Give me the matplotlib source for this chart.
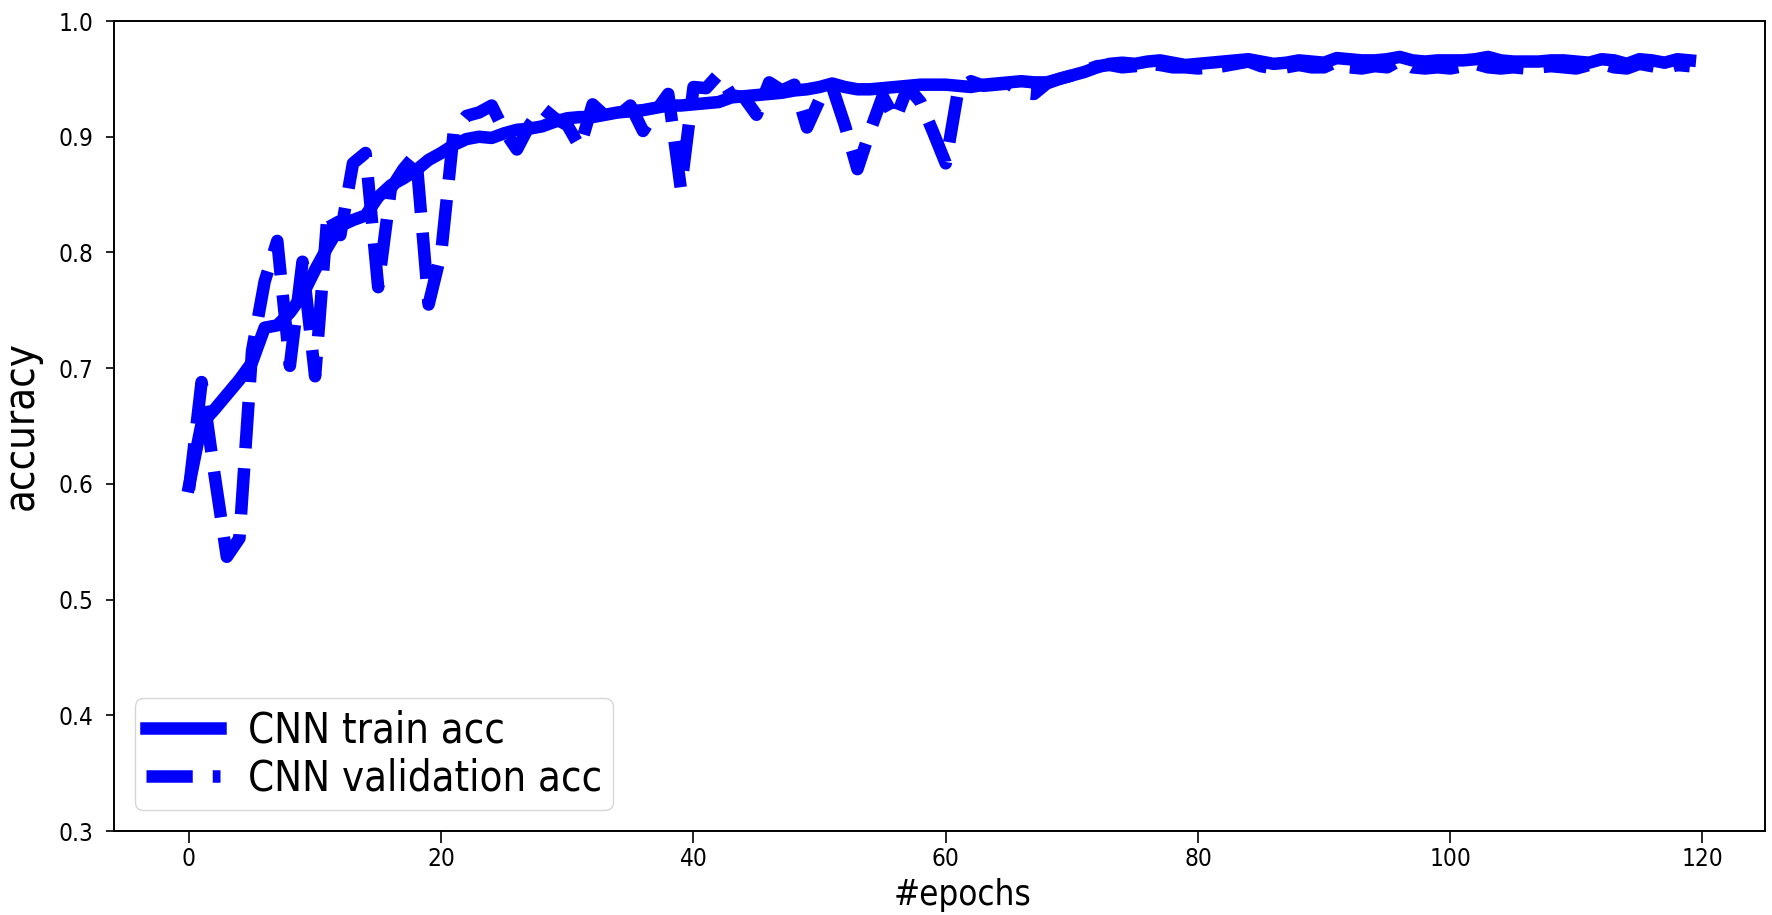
import matplotlib
matplotlib.use("Agg")
import numpy as np
import matplotlib.pyplot as plt

# accuracy per epoch
train_acc = [
    0.598, 0.652, 0.664, 0.677, 0.690, 0.705, 0.735, 0.737, 0.748, 0.763,
    0.785, 0.805, 0.823, 0.828, 0.832, 0.848, 0.858, 0.864, 0.871, 0.880,
    0.886, 0.893, 0.898, 0.900, 0.899, 0.903, 0.906, 0.907, 0.909, 0.913,
    0.916, 0.917, 0.917, 0.919, 0.921, 0.922, 0.923, 0.925, 0.927, 0.927,
    0.928, 0.929, 0.930, 0.934, 0.935, 0.936, 0.937, 0.938, 0.940, 0.941,
    0.943, 0.946, 0.943, 0.941, 0.941, 0.942, 0.943, 0.944, 0.945, 0.945,
    0.945, 0.944, 0.943, 0.945, 0.946, 0.947, 0.948, 0.947, 0.947, 0.950,
    0.953, 0.956, 0.960, 0.963, 0.964, 0.963, 0.965, 0.966, 0.964, 0.962,
    0.963, 0.964, 0.965, 0.966, 0.967, 0.965, 0.963, 0.964, 0.966, 0.965,
    0.964, 0.968, 0.967, 0.966, 0.966, 0.967, 0.969, 0.966, 0.965, 0.966,
    0.966, 0.966, 0.967, 0.969, 0.966, 0.965, 0.965, 0.965, 0.966, 0.966,
    0.965, 0.964, 0.967, 0.966, 0.963, 0.967, 0.966, 0.964, 0.967, 0.966,
]
val_acc = [
    0.595, 0.688, 0.610, 0.537, 0.553, 0.715, 0.775, 0.810, 0.702, 0.792,
    0.693, 0.835, 0.815, 0.877, 0.886, 0.770, 0.855, 0.872, 0.885, 0.755,
    0.800, 0.905, 0.918, 0.921, 0.927, 0.905, 0.889, 0.910, 0.925, 0.916,
    0.910, 0.891, 0.928, 0.918, 0.918, 0.927, 0.905, 0.922, 0.937, 0.855,
    0.943, 0.942, 0.954, 0.936, 0.934, 0.919, 0.947, 0.940, 0.945, 0.908,
    0.932, 0.943, 0.910, 0.872, 0.905, 0.935, 0.915, 0.943, 0.930, 0.904,
    0.877, 0.941, 0.948, 0.944, 0.945, 0.946, 0.938, 0.937, 0.946, 0.950,
    0.953, 0.957, 0.961, 0.962, 0.960, 0.961, 0.963, 0.962, 0.960, 0.960,
    0.959, 0.960, 0.961, 0.963, 0.965, 0.961, 0.959, 0.960, 0.962, 0.960,
    0.960, 0.965, 0.960, 0.959, 0.961, 0.960, 0.966, 0.960, 0.959, 0.960,
    0.959, 0.961, 0.963, 0.960, 0.959, 0.960, 0.959, 0.960, 0.961, 0.960,
    0.959, 0.962, 0.963, 0.960, 0.959, 0.963, 0.961, 0.959, 0.962, 0.961,
]
epochs = np.arange(len(train_acc))
labels = ['CNN train acc', 'CNN validation acc']

plt.rcParams['font.family'] = 'DejaVu Sans'
plt.rcParams['font.stretch'] = 'condensed'

fig = plt.figure(figsize=(17.72, 9.15), dpi=100)
ax = fig.add_axes([0.0643, 0.0918, 0.9317, 0.8852])

ax.plot(epochs, train_acc, '-', color='b', lw=9, label=labels[0])
ax.plot(epochs, val_acc, '--', color='b', lw=9, label=labels[1])

ax.set_ylim(0.3, 1.0)
ax.set_yticks(np.arange(0.3, 1.01, 0.1))
ax.set_xticks([0, 20, 40, 60, 80, 100, 120])
ax.tick_params(axis='y', labelsize=17.5, length=6, width=1.2, pad=8.5)
ax.tick_params(axis='x', labelsize=17.5, length=8.5, width=1.2, pad=3)
for s in ax.spines.values():
    s.set_linewidth(1.4)

ax.set_xlabel('#epochs', fontsize=25)
ax.set_ylabel('accuracy', fontsize=30)
ax.xaxis.set_label_coords(0.514, -0.058)
ax.yaxis.set_label_coords(-0.0436, 0.5)

ax.legend(loc='lower left', fontsize=30, handlelength=1.78, handletextpad=0.67,
          labelspacing=0.15, borderpad=0.26, borderaxespad=0.5)

fig.savefig("out.png", dpi=100)
